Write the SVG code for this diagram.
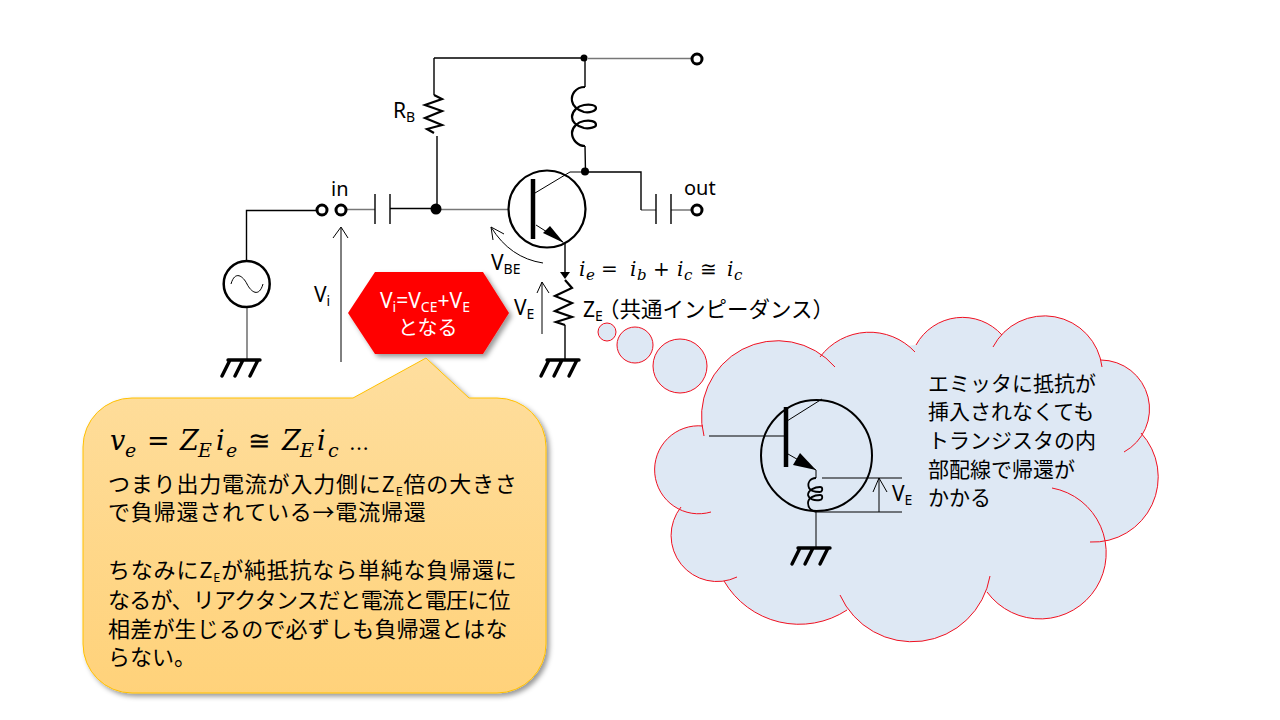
<svg xmlns="http://www.w3.org/2000/svg" width="1280" height="720" viewBox="0 0 1280 720">
<style>
text{font-family:"Noto Sans","Noto Sans CJK JP",sans-serif;font-size:20px;fill:#000}
.l{font-size:21px}
.j{font-family:"Noto Sans CJK JP","Noto Sans",sans-serif;font-size:21px}
.c{font-size:22px}
.s{font-size:14px}
.m{font-family:"DejaVu Serif","Liberation Serif",serif;font-style:italic}
.mu{font-family:"DejaVu Serif","Liberation Serif",serif}
.w{fill:none;stroke:#000;stroke-width:1.4}
.g{fill:none;stroke:#777;stroke-width:1.6}
.t{fill:none;stroke:#000;stroke-width:1}
.h{fill:none;stroke:#000;stroke-width:2.2}
.gnd{fill:none;stroke:#000;stroke-width:3.400;stroke-linecap:round}
.term{fill:#fff;stroke:#000;stroke-width:3}
.dot{fill:#000}
.cl{fill:#DEE8F4;stroke:#F01020;stroke-width:1}
.wh,.wh tspan{fill:#fff}
</style>
<defs>
<linearGradient id="og" x1="0" y1="0" x2="0" y2="1"><stop offset="0" stop-color="#FEDE9E"/><stop offset="1" stop-color="#FFD27A"/></linearGradient>
<filter id="sh" x="-10%" y="-10%" width="125%" height="125%"><feDropShadow dx="3" dy="3" stdDeviation="2.5" flood-color="#000" flood-opacity=".4"/></filter>
<g id="gnd"><path class="gnd" d="M-17,0H15M-15,0L-23,16M-2,0L-10,16M13,0L5,16"/></g>
</defs>

<g id="connectors">
<path class="w" d="M434,58H584V58M434,58V95"/>
<path class="g" d="M588,58.500H692"/>
<path class="w" d="M437,136V209M585,58V87M585,146L585.500,172M246.500,261V210.500H316"/>
<path class="g" d="M347,209.500H375M247,307V360M441,209.500H509M641,210H656M671,210H692"/>
<path class="w" d="M390,208.500H436M585,172H641V210"/>
<path class="w" d="M565,243V275"/>
<path class="dot" d="M560,272H570L565,279Z"/>
<path class="w" d="M565,325V360"/>
<path class="t" d="M341,362V228M333,238L341,227L348,238"/>
<path class="t" d="M542,334V282M537,293L542,282L549,293"/>
<path class="t" d="M543,263Q510,258 491,227M504,234L491,227L493,240"/>
</g>

<g id="source"><circle cx="246.700" cy="284" r="23" fill="#fff" stroke="#000" stroke-width="2.500"/><path class="t" d="M231,284C235,270 243,276 247,284C251,292 259,298 263,284"/><use href="#gnd" x="245" y="360"/></g>
<g id="terminal-in"><circle class="term" cx="322" cy="210" r="5"/><circle class="term" cx="341" cy="210" r="5"/><text x="331" y="196">in</text></g>
<g id="cap-in"><path class="w" stroke-width="2" d="M375,194V224M390,194V224"/></g>
<g id="rb"><path class="h" d="M434,95L442,99L425,105L442,111L425,118L442,125L427,129L434,133"/><text class="l" x="393" y="118">R<tspan class="s" dy="4">B</tspan></text></g>
<g id="base-node"><circle class="dot" cx="436" cy="209" r="5.500"/></g>
<g id="vcc"><circle class="dot" cx="584" cy="58" r="3.500"/><circle class="term" cx="697" cy="59" r="5"/></g>
<g id="inductor"><path class="h" d="M585,87C575,87 571,95 572,101C573,107 578,110 584,112C590,113 596,111 596,108C596,105 590,104 584,105C578,106 572,111 572,117C572,122 577,126 584,128C590,129 596,127 596,125C596,121 590,120 584,121C578,122 572,127 572,133C572,140 578,146 585,146"/></g>
<g id="transistor"><circle cx="547" cy="209" r="38.500" fill="none" stroke="#000" stroke-width="2.200"/><path d="M533,179V239" stroke="#000" stroke-width="4.500" fill="none"/><path class="t" d="M535,193L570,172H585M536,225L563,242"/><path class="dot" d="M564,243L543,233L550,226Z"/><circle class="dot" cx="585" cy="171.500" r="4"/></g>
<g id="cap-out"><path class="w" stroke-width="2" d="M656,194V224M671,194V224"/><circle class="term" cx="697" cy="210" r="5"/><text x="684" y="195">out</text></g>
<g id="ze"><path class="h" d="M565,280L572,288L555,296L572,303L555,311L572,317L556,322L565,325"/><use href="#gnd" x="564" y="360"/></g>

<g id="labels">
<text class="l" x="314" y="302">V<tspan class="s" dy="4">i</tspan></text>
<text class="l" x="491" y="270">V<tspan class="s" dy="4">BE</tspan></text>
<text class="l" x="514" y="315">V<tspan class="s" dy="4">E</tspan></text>
<text class="l" x="583" y="317">Z<tspan class="s" dy="4">E</tspan><tspan class="j" x="598" dy="-4" style="font-size:21.500px">（共通インピーダンス）</tspan></text>
<text y="276"><tspan class="m" x="579" style="font-size:20px">i</tspan><tspan class="m" x="586" dy="4" style="font-size:15px">e</tspan><tspan class="mu" x="601" dy="-4" style="font-size:20px">=</tspan><tspan class="m" x="630" style="font-size:20px">i</tspan><tspan class="m" x="637" dy="4" style="font-size:15px">b</tspan><tspan class="mu" x="653" dy="-4" style="font-size:20px">+</tspan><tspan class="m" x="677" style="font-size:20px">i</tspan><tspan class="m" x="684" dy="4" style="font-size:15px">c</tspan><tspan class="mu" x="700" dy="-4" style="font-size:20px">≅</tspan><tspan class="m" x="727" style="font-size:20px">i</tspan><tspan class="m" x="734" dy="4" style="font-size:15px">c</tspan></text>
</g>

<g id="hexagon"><path d="M348,313L375,272H483L509,313L483,354H375Z" fill="#F00" filter="url(#sh)"/>
<text class="wh l" x="380" y="308">V<tspan class="s" dy="4">i</tspan><tspan dy="-4">=V</tspan><tspan class="s" dy="4">CE</tspan><tspan dy="-4">+V</tspan><tspan class="s" dy="4">E</tspan></text>
<text class="j wh" x="398" y="335" style="font-size:20px">となる</text></g>

<g id="callout"><path d="M132,398H353L426,358L469,398H497A49,49 0 0 1 546,447V644A49,49 0 0 1 497,693H132A49,49 0 0 1 83,644V447A49,49 0 0 1 132,398Z" fill="url(#og)" stroke="#FFC000" stroke-width="1" filter="url(#sh)"/>
<text y="450"><tspan class="m" x="110" style="font-size:27px">v</tspan><tspan class="m" x="125" dy="7" style="font-size:19px">e</tspan><tspan class="mu" x="147" dy="-7" style="font-size:27px">=</tspan><tspan class="m" x="180" style="font-size:27px">Z</tspan><tspan class="m" x="198" dy="7" style="font-size:19px">E</tspan><tspan class="m" x="216" dy="-7" style="font-size:27px">i</tspan><tspan class="m" x="226" dy="7" style="font-size:19px">e</tspan><tspan class="mu" x="248" dy="-7" style="font-size:27px">≅</tspan><tspan class="m" x="282" style="font-size:27px">Z</tspan><tspan class="m" x="300" dy="7" style="font-size:19px">E</tspan><tspan class="m" x="317" dy="-7" style="font-size:27px">i</tspan><tspan class="m" x="328" dy="7" style="font-size:19px">c</tspan><tspan class="mu" x="349" dy="-7" style="font-size:20px">…</tspan></text>
<text class="j c" x="108" y="492" letter-spacing=".8">つまり出力電流が入力側にZ<tspan style="font-size:12px" dy="4">E</tspan><tspan dy="-4">倍の大きさ</tspan></text>
<text class="j c" x="108" y="520" letter-spacing=".8">で負帰還されている→電流帰還</text>
<text class="j c" x="108" y="578" letter-spacing=".8">ちなみにZ<tspan style="font-size:12px" dy="4">E</tspan><tspan dy="-4">が純抵抗なら単純な負帰還に</tspan></text>
<text class="j c" x="108" y="608" letter-spacing="-.7">なるが、リアクタンスだと電流と電圧に位</text>
<text class="j c" x="108" y="637" letter-spacing=".2">相差が生じるので必ずしも負帰還とはな</text>
<text class="j c" x="108" y="665">らない。</text></g>

<g id="cloud">
<circle class="cl" cx="607" cy="332" r="9"/><circle class="cl" cx="635" cy="345" r="18"/><circle class="cl" cx="680" cy="366" r="27"/>
<path fill="#DEE8F4" d="M704,436A76,76 0 0 1 835,367ZM820,357A62,62 0 0 1 915,352ZM916,345A53,53 0 0 1 1002,335ZM993,347A58,58 0 0 1 1102,367ZM1101,360A49,49 0 0 1 1124,452ZM1141,433A65,65 0 0 1 1090,542ZM1052,488A66,66 0 1 1 987,592ZM990,576A79,79 0 0 1 840,595ZM847,610A87,87 0 0 1 724,581ZM737,577A46,46 0 0 1 681,507ZM711,512A44,44 0 1 1 703,426ZM704,436L820,357L915,345L1002,335L1101,360L1141,433L1090,542L987,592L847,610L724,581L681,507Z"/>
<path fill="none" stroke="#F01020" stroke-width="1" d="M704,436A76,76 0 0 1 835,367M820,357A62,62 0 0 1 915,352M916,345A53,53 0 0 1 1002,335M993,347A58,58 0 0 1 1102,367M1101,360A49,49 0 0 1 1124,452M1141,433A65,65 0 0 1 1090,542M1052,488A66,66 0 1 1 987,592M990,576A79,79 0 0 1 840,595M847,610A87,87 0 0 1 724,581M737,577A46,46 0 0 1 681,507M711,512A44,44 0 1 1 703,426"/>
<text class="j" x="928" y="391">エミッタに抵抗が</text>
<text class="j" x="928" y="419">挿入されなくても</text>
<text class="j" x="928" y="448">トランジスタの内</text>
<text class="j" x="928" y="477">部配線で帰還が</text>
<text class="j" x="928" y="505">かかる</text>
</g>

<g id="inner-transistor">
<circle cx="816.500" cy="455.500" r="55.500" fill="none" stroke="#000" stroke-width="2"/>
<path d="M786,407V467" stroke="#000" stroke-width="4.500" fill="none"/>
<path class="t" d="M709,436H786M787,421L822,399M788,454L816,470V478M816,512V548M822,478H902M816,512H902M879,512V478M873,492L879,478L887,492"/>
<path class="dot" d="M816,470L793,465L800,453Z"/>
<path fill="none" stroke="#000" stroke-width="1.800" d="M816,478C810,478 807,483 809,488C811,492 816,492 820,492C823,491 823,487 820,487C815,487 808,490 808,495C809,499 814,501 820,500C823,499 823,495 820,495C814,495 808,498 808,503C808,508 812,511 816,512"/>
<use href="#gnd" x="815" y="548"/>
<text class="l" x="892" y="501">V<tspan class="s" dy="4">E</tspan></text>
</g>
</svg>
